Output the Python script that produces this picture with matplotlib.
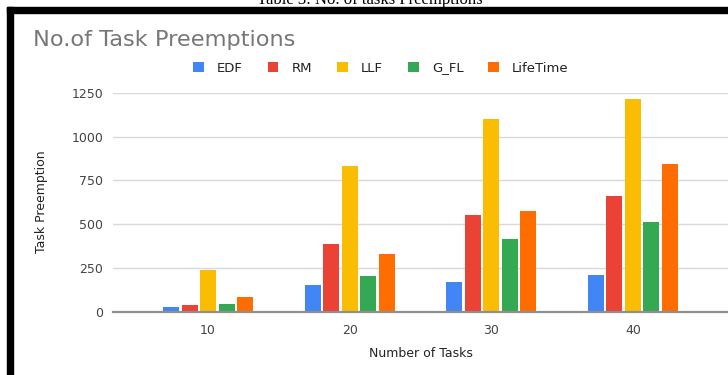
import matplotlib
matplotlib.use("Agg")
import matplotlib.pyplot as plt
from matplotlib.patches import Patch, Rectangle
import numpy as np

plt.rcParams['font.family'] = ['DejaVu Sans']

# Data
task_counts = ["10", "20", "30", "40"]
series_names = ["EDF", "RM", "LLF", "G_FL", "LifeTime"]
edf = [30, 155, 172, 210]
rm = [40, 385, 553, 659]
llf = [240, 830, 1102, 1215]
g_fl = [47, 205, 418, 513]
lifetime = [88, 330, 576, 845]
y_ticks = [0, 250, 500, 750, 1000, 1250]

series_values = [edf, rm, llf, g_fl, lifetime]
colors = ["#4285F4", "#EA4335", "#FBBC04", "#34A853", "#FF6D01"]

W, H = 728, 375
fig = plt.figure(figsize=(W / 100, H / 100), dpi=100)
fig.patch.set_facecolor("white")

# Plot area in pixel terms
left_px, right_px = 113, 728
bottom_px, top_px = 312, 92.7
ax = fig.add_axes([left_px / W, 1 - bottom_px / H,
                   (right_px - left_px) / W, (bottom_px - top_px) / H])

x = np.arange(len(task_counts))
bar_w = 0.113
step = 0.1307
for i, (vals, col) in enumerate(zip(series_values, colors)):
    ax.bar(x + (i - 2) * step, vals, width=bar_w, color=col,
           edgecolor="none", zorder=3, label=series_names[i])

ax.set_ylim(0, 1250)
ax.set_xlim(-0.671, 3.672)
ax.set_yticks(y_ticks)
ax.set_yticklabels([str(v) for v in y_ticks])
ax.set_xticks(x)
ax.set_xticklabels(task_counts)

ax.grid(axis="y", color="#d9d9d9", linewidth=1.0, zorder=0)
ax.set_axisbelow(True)
for side in ["top", "right", "left"]:
    ax.spines[side].set_visible(False)
ax.spines["bottom"].set_color("#8f8f8f")
ax.spines["bottom"].set_linewidth(1.6)
ax.spines["bottom"].set_zorder(4)

ax.tick_params(axis="both", length=0, labelsize=9, colors="#444444")
ax.tick_params(axis="y", pad=7)
ax.tick_params(axis="x", pad=9)

ax.set_ylabel("Task Preemption", fontsize=9, color="#222222")
ax.yaxis.set_label_coords(-0.105, 0.505)
ax.set_xlabel("Number of Tasks", fontsize=9, color="#222222")
ax.xaxis.set_label_coords(0.5, -0.16)

# Title
fig.text(33 / W, 1 - 40 / H, "No.of Task Preemptions", fontsize=16.2,
         color="#777777", va="center", ha="left")

# Legend
handles = [Patch(facecolor=c, edgecolor="none") for c in colors]
fig.legend(handles, series_names, loc="center", ncol=5,
           bbox_to_anchor=(381 / W, 1 - 68 / H), frameon=False,
           fontsize=9.5, handlelength=0.8, handleheight=0.8,
           handletextpad=1.0, columnspacing=1.9, labelcolor="#222222")

# Page frame and caption above the chart
fig.patches.append(Rectangle((7 / W, 1 - 13 / H), 1 - 7 / W, 6 / H,
                             transform=fig.transFigure, color="black", zorder=5))
fig.patches.append(Rectangle((7 / W, 0), 6 / W, 1 - 7 / H,
                             transform=fig.transFigure, color="black", zorder=5))
fig.text(370 / W, 1 - 4 / H, "Table 3: No. of tasks Preemptions",
         fontsize=12, family="Liberation Serif", ha="center",
         va="baseline", color="black")

fig.savefig("out.png", dpi=100, facecolor="white")
